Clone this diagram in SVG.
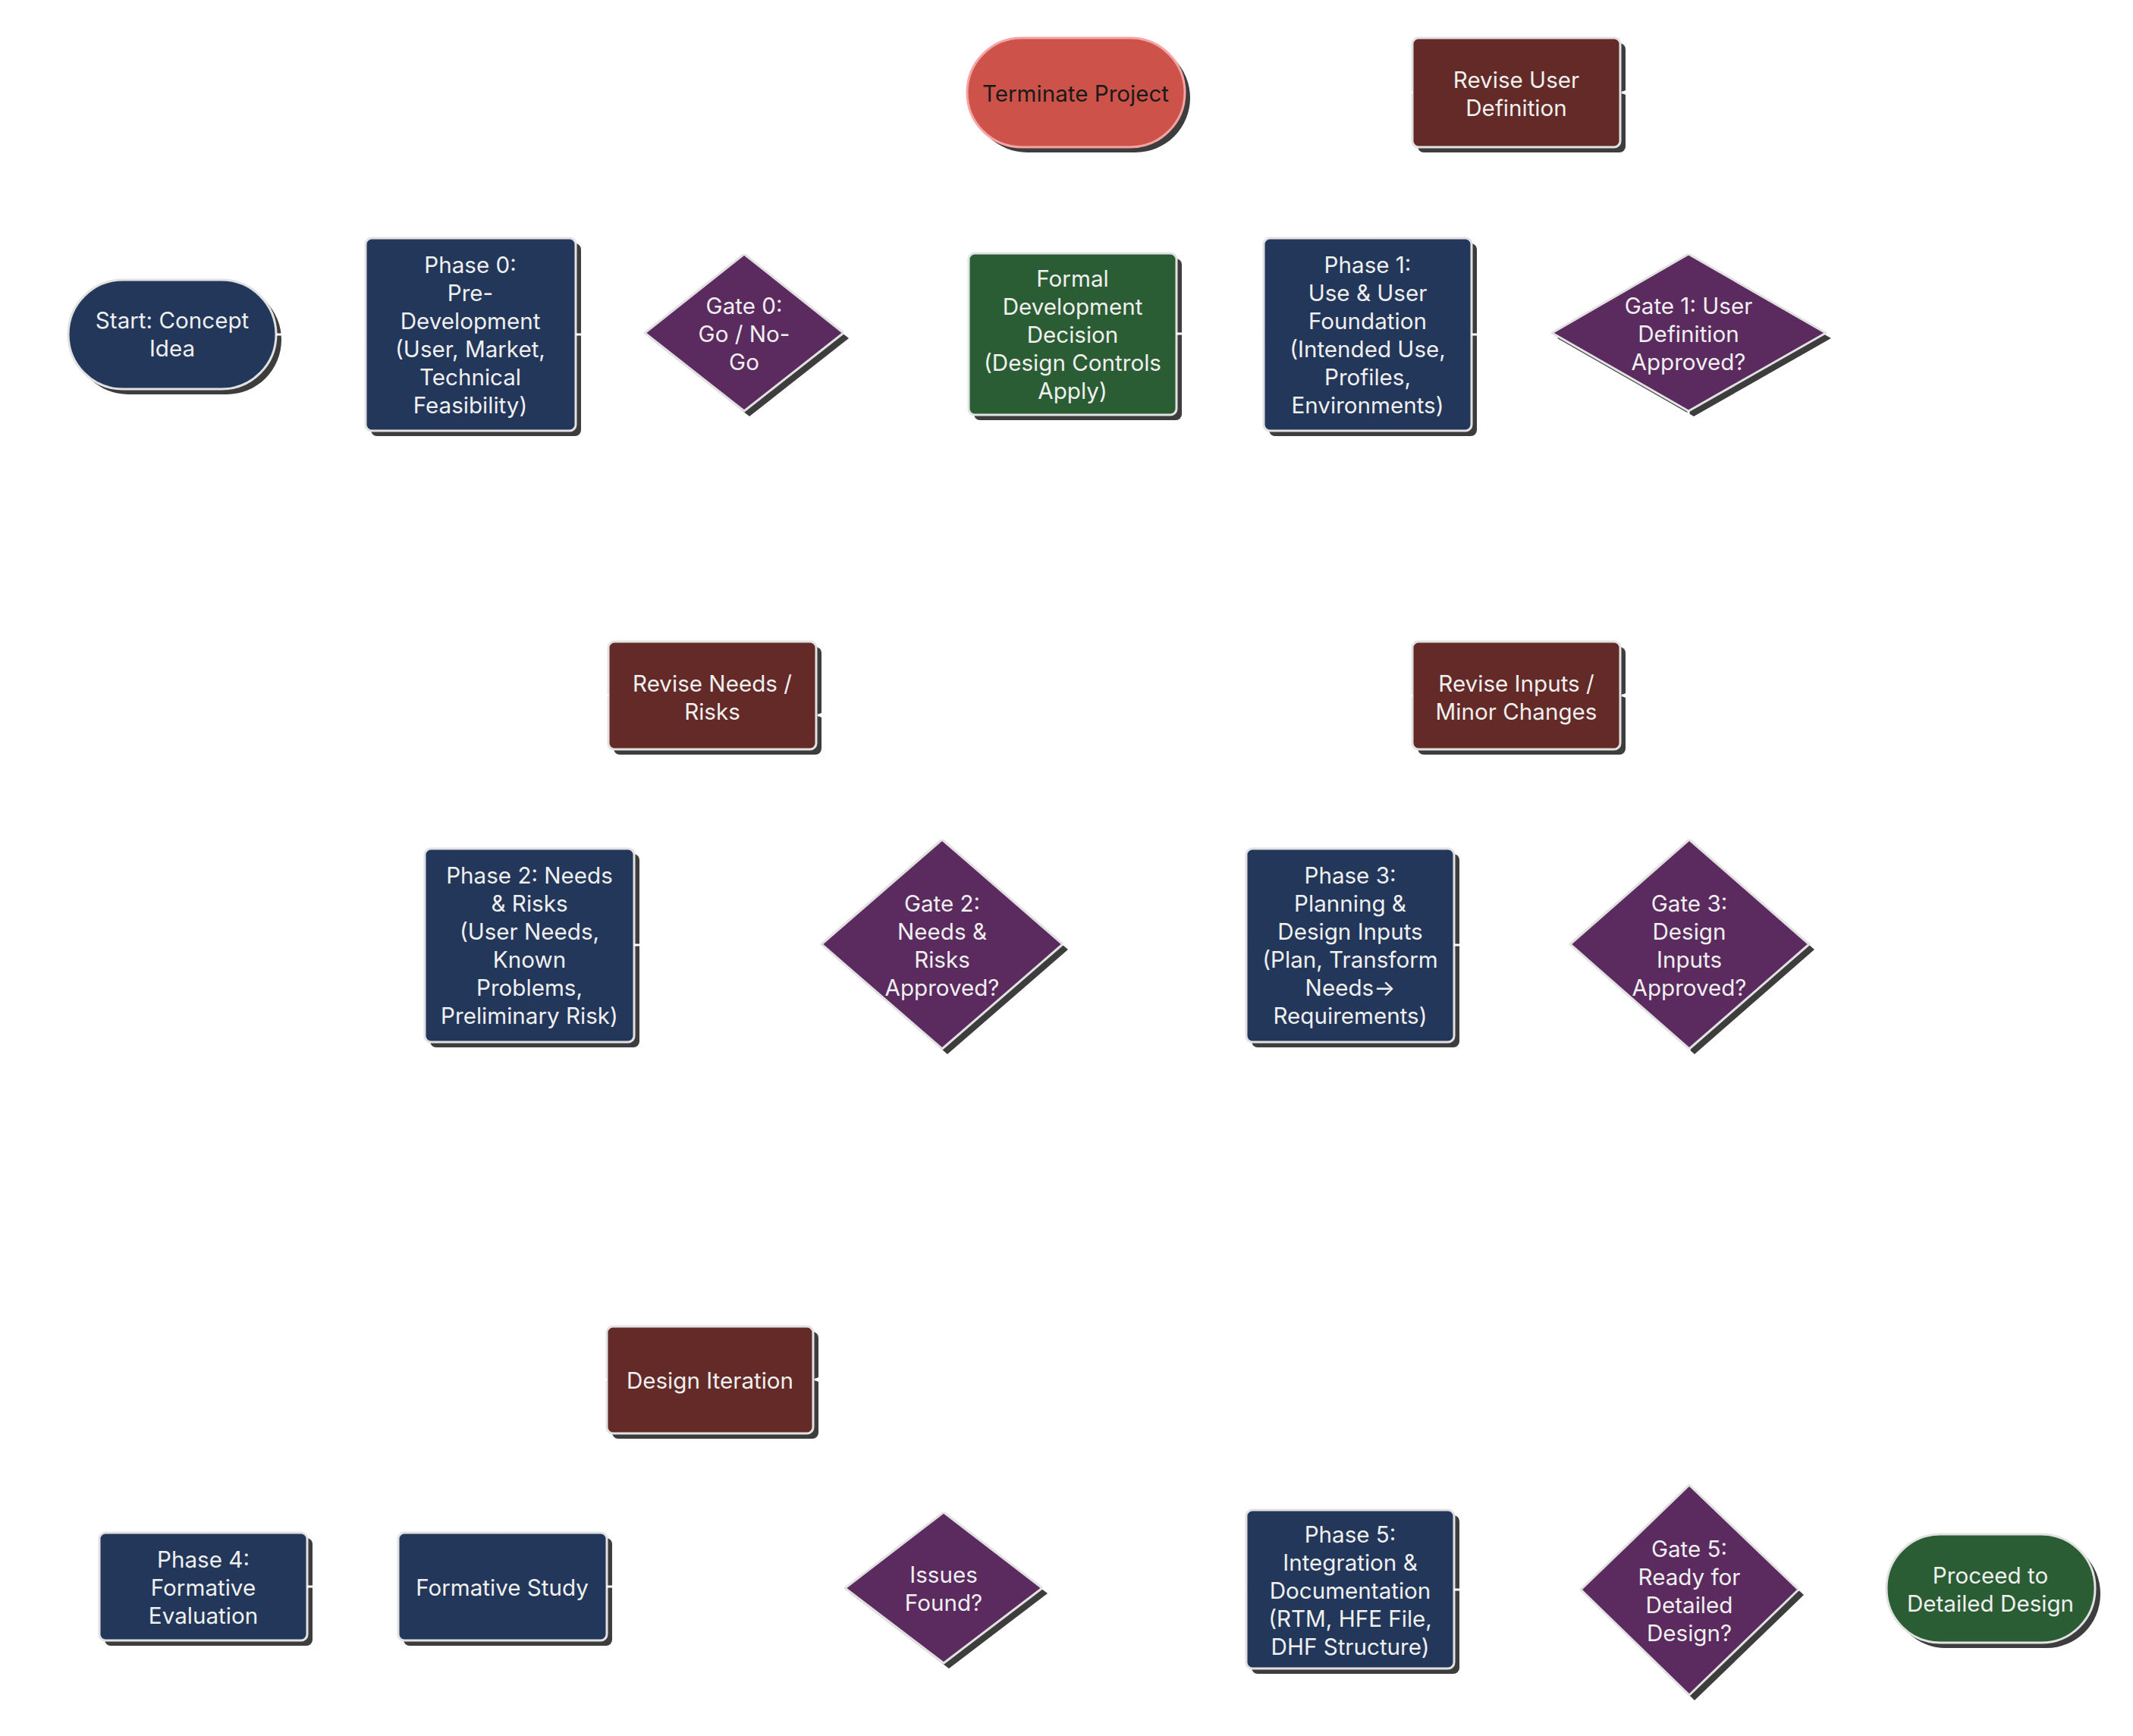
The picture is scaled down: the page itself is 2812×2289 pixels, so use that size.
<svg xmlns="http://www.w3.org/2000/svg" width="2812" height="2289" viewBox="0 0 2812 2289">
<defs>
<style>
.sh{fill:#3d3d3d}
.nv{fill:#23375b;stroke:#e2e2e2;stroke-width:3}
.pu{fill:#5b2a5f;stroke:#e2e2e2;stroke-width:3;stroke-linejoin:round}
.mr{fill:#632a27;stroke:#e2e2e2;stroke-width:3}
.gr{fill:#2b5d34;stroke:#e2e2e2;stroke-width:3}
.rd{fill:#cd534a;stroke:#f5a3a3;stroke-width:3}
.t{font-family:Inter,"Liberation Sans",sans-serif;font-size:29.6px;fill:#f0f0f0;text-anchor:middle}
.td{font-family:Inter,"Liberation Sans",sans-serif;font-size:29.6px;fill:#1a1a1a;text-anchor:middle}
.c{fill:none;stroke:#ffffff;stroke-width:3;marker-end:url(#ah)}
</style>
<marker id="ah" viewBox="0 0 10 10" refX="9" refY="5" markerWidth="4" markerHeight="4" orient="auto" markerUnits="strokeWidth">
<path d="M0,0 L10,5 L0,10 z" fill="#ffffff"/>
</marker>
</defs>
<rect width="2812" height="2289" fill="#ffffff"/>

<g id="n-start">
<rect class="sh" x="97" y="376" width="274" height="144" rx="72"/>
<rect class="nv" x="90" y="369" width="274" height="144" rx="72"/>
<text class="t"><tspan x="227" y="433">Start: Concept</tspan><tspan x="227" y="470">Idea</tspan></text>
</g>
<g id="n-phase0">
<rect class="sh" x="489" y="321" width="277" height="254" rx="8"/>
<rect class="nv" x="482" y="314" width="277" height="254" rx="8"/>
<text class="t"><tspan x="620" y="360">Phase 0:</tspan><tspan x="620" y="397">Pre-</tspan><tspan x="620" y="434">Development</tspan><tspan x="620" y="471">(User, Market,</tspan><tspan x="620" y="508">Technical</tspan><tspan x="620" y="545">Feasibility)</tspan></text>
</g>
<g id="n-gate0">
<polygon class="sh" points="988,342 1119,446 988,549 857,446"/>
<polygon class="pu" points="981,335 1112,439 981,542 850,439"/>
<text class="t"><tspan x="981" y="414">Gate 0:</tspan><tspan x="981" y="451">Go / No-</tspan><tspan x="981" y="488">Go</tspan></text>
</g>
<g id="n-terminate">
<rect class="sh" x="1282" y="57" width="287" height="144" rx="72"/>
<rect class="rd" x="1275" y="50" width="287" height="144" rx="72"/>
<text class="td" x="1418" y="134">Terminate Project</text>
</g>
<g id="n-formal">
<rect class="sh" x="1284" y="341" width="274" height="213" rx="8"/>
<rect class="gr" x="1277" y="334" width="274" height="213" rx="8"/>
<text class="t"><tspan x="1414" y="378">Formal</tspan><tspan x="1414" y="415">Development</tspan><tspan x="1414" y="452">Decision</tspan><tspan x="1414" y="489">(Design Controls</tspan><tspan x="1414" y="526">Apply)</tspan></text>
</g>
<g id="n-reviseuser">
<rect class="sh" x="1869" y="57" width="274" height="144" rx="8"/>
<rect class="mr" x="1862" y="50" width="274" height="144" rx="8"/>
<text class="t"><tspan x="1999" y="116">Revise User</tspan><tspan x="1999" y="153">Definition</tspan></text>
</g>
<g id="n-phase1">
<rect class="sh" x="1673" y="321" width="274" height="254" rx="8"/>
<rect class="nv" x="1666" y="314" width="274" height="254" rx="8"/>
<text class="t"><tspan x="1803" y="360">Phase 1:</tspan><tspan x="1803" y="397">Use &amp; User</tspan><tspan x="1803" y="434">Foundation</tspan><tspan x="1803" y="471">(Intended Use,</tspan><tspan x="1803" y="508">Profiles,</tspan><tspan x="1803" y="545">Environments)</tspan></text>
</g>
<g id="n-gate1">
<polygon class="sh" points="2233,342 2414,446 2233,549 2053,446"/>
<polygon class="pu" points="2226,335 2407,439 2226,542 2046,439"/>
<text class="t"><tspan x="2226" y="414">Gate 1: User</tspan><tspan x="2226" y="451">Definition</tspan><tspan x="2226" y="488">Approved?</tspan></text>
</g>
<g id="n-reviseneeds">
<rect class="sh" x="809" y="853" width="274" height="142" rx="8"/>
<rect class="mr" x="802" y="846" width="274" height="142" rx="8"/>
<text class="t"><tspan x="939" y="912">Revise Needs /</tspan><tspan x="939" y="949">Risks</tspan></text>
</g>
<g id="n-reviseinputs">
<rect class="sh" x="1869" y="853" width="274" height="142" rx="8"/>
<rect class="mr" x="1862" y="846" width="274" height="142" rx="8"/>
<text class="t"><tspan x="1999" y="912">Revise Inputs /</tspan><tspan x="1999" y="949">Minor Changes</tspan></text>
</g>
<g id="n-phase2">
<rect class="sh" x="567" y="1126" width="276" height="255" rx="8"/>
<rect class="nv" x="560" y="1119" width="276" height="255" rx="8"/>
<text class="t"><tspan x="698" y="1165">Phase 2: Needs</tspan><tspan x="698" y="1202">&amp; Risks</tspan><tspan x="698" y="1239">(User Needs,</tspan><tspan x="698" y="1276">Known</tspan><tspan x="698" y="1313">Problems,</tspan><tspan x="698" y="1350">Preliminary Risk)</tspan></text>
</g>
<g id="n-gate2">
<polygon class="sh" points="1249,1114 1408,1252 1249,1390 1090,1252"/>
<polygon class="pu" points="1242,1107 1401,1245 1242,1383 1083,1245"/>
<text class="t"><tspan x="1242" y="1202">Gate 2:</tspan><tspan x="1242" y="1239">Needs &amp;</tspan><tspan x="1242" y="1276">Risks</tspan><tspan x="1242" y="1313">Approved?</tspan></text>
</g>
<g id="n-phase3">
<rect class="sh" x="1650" y="1126" width="274" height="255" rx="8"/>
<rect class="nv" x="1643" y="1119" width="274" height="255" rx="8"/>
<text class="t"><tspan x="1780" y="1165">Phase 3:</tspan><tspan x="1780" y="1202">Planning &amp;</tspan><tspan x="1780" y="1239">Design Inputs</tspan><tspan x="1780" y="1276">(Plan, Transform</tspan><tspan x="1780" y="1313">Needs→</tspan><tspan x="1780" y="1350">Requirements)</tspan></text>
</g>
<g id="n-gate3">
<polygon class="sh" points="2234,1114 2392,1252 2234,1390 2077,1252"/>
<polygon class="pu" points="2227,1107 2385,1245 2227,1383 2070,1245"/>
<text class="t"><tspan x="2227" y="1202">Gate 3:</tspan><tspan x="2227" y="1239">Design</tspan><tspan x="2227" y="1276">Inputs</tspan><tspan x="2227" y="1313">Approved?</tspan></text>
</g>
<g id="n-designiter">
<rect class="sh" x="807" y="1756" width="272" height="141" rx="8"/>
<rect class="mr" x="800" y="1749" width="272" height="141" rx="8"/>
<text class="t" x="936" y="1831">Design Iteration</text>
</g>
<g id="n-phase4">
<rect class="sh" x="138" y="2028" width="274" height="142" rx="8"/>
<rect class="nv" x="131" y="2021" width="274" height="142" rx="8"/>
<text class="t"><tspan x="268" y="2067">Phase 4:</tspan><tspan x="268" y="2104">Formative</tspan><tspan x="268" y="2141">Evaluation</tspan></text>
</g>
<g id="n-formative">
<rect class="sh" x="532" y="2028" width="275" height="142" rx="8"/>
<rect class="nv" x="525" y="2021" width="275" height="142" rx="8"/>
<text class="t" x="662" y="2104">Formative Study</text>
</g>
<g id="n-issues">
<polygon class="sh" points="1251,2001 1381,2101 1251,2200 1121,2101"/>
<polygon class="pu" points="1244,1994 1374,2094 1244,2193 1114,2094"/>
<text class="t"><tspan x="1244" y="2087">Issues</tspan><tspan x="1244" y="2124">Found?</tspan></text>
</g>
<g id="n-phase5">
<rect class="sh" x="1650" y="1998" width="274" height="209" rx="8"/>
<rect class="nv" x="1643" y="1991" width="274" height="209" rx="8"/>
<text class="t"><tspan x="1780" y="2034">Phase 5:</tspan><tspan x="1780" y="2071">Integration &amp;</tspan><tspan x="1780" y="2108">Documentation</tspan><tspan x="1780" y="2145">(RTM, HFE File,</tspan><tspan x="1780" y="2182">DHF Structure)</tspan></text>
</g>
<g id="n-gate5">
<polygon class="sh" points="2234,1965 2378,2103 2234,2242 2091,2103"/>
<polygon class="pu" points="2227,1958 2371,2096 2227,2235 2084,2096"/>
<text class="t"><tspan x="2227" y="2053">Gate 5:</tspan><tspan x="2227" y="2090">Ready for</tspan><tspan x="2227" y="2127">Detailed</tspan><tspan x="2227" y="2164">Design?</tspan></text>
</g>
<g id="n-proceed">
<rect class="sh" x="2494" y="2030" width="275" height="143" rx="71"/>
<rect class="gr" x="2487" y="2023" width="275" height="143" rx="71"/>
<text class="t"><tspan x="2624" y="2088">Proceed to</tspan><tspan x="2624" y="2125">Detailed Design</tspan></text>
</g>

<g id="connectors">
<path class="c" d="M364,441 H480"/>
<path class="c" d="M759,441 H848"/>
<path class="c" d="M1112,439 H1275"/>
<path class="c" d="M981,335 V122 H1273"/>
<path class="c" d="M1551,440 H1664"/>
<path class="c" d="M1940,441 H2044"/>
<path class="c" d="M2226,335 V122 H2138"/>
<path class="c" d="M1862,122 H1803 V312"/>
<path class="c" d="M2226,542 V1050 H698 V1117"/>
<path class="c" d="M836,1246 H1081"/>
<path class="c" d="M1242,1107 V943 H1078"/>
<path class="c" d="M802,917 H698 V1117"/>
<path class="c" d="M1401,1245 H1641"/>
<path class="c" d="M1917,1246 H2068"/>
<path class="c" d="M2227,1107 V917 H2138"/>
<path class="c" d="M1862,917 H1780 V1117"/>
<path class="c" d="M2227,1383 V1930 H268 V2019"/>
<path class="c" d="M405,2092 H523"/>
<path class="c" d="M800,2092 H1112"/>
<path class="c" d="M1244,1994 V1819 H1074"/>
<path class="c" d="M800,1819 H662 V2019"/>
<path class="c" d="M1374,2094 H1641"/>
<path class="c" d="M1917,2096 H2082"/>
<path class="c" d="M2371,2096 H2485"/>
</g>
</svg>
